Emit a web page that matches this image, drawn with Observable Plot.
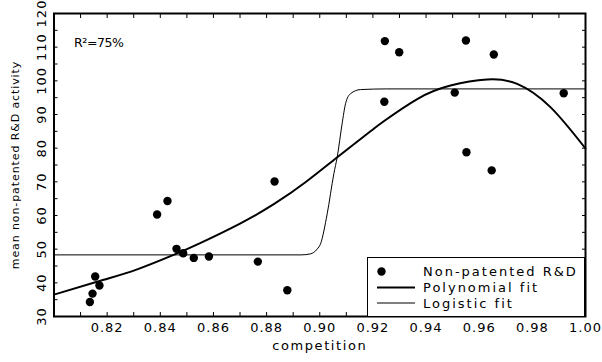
<!DOCTYPE html>
<html><head><meta charset="utf-8">
<script src="https://cdn.jsdelivr.net/npm/d3@7"></script>
<script src="https://cdn.jsdelivr.net/npm/@observablehq/plot@0.6"></script>
<style>
body{margin:0;background:#fff;}
#wrap{position:relative;width:602px;height:362px;font-family:"DejaVu Sans",sans-serif;}
#wrap svg text{letter-spacing:1px;}
#wrap svg .xtitle text{letter-spacing:1.6px;}
#wrap svg .ytitle text{letter-spacing:0.9px;}
#wrap svg .annot text{letter-spacing:-0.4px;}
#wrap #legend svg text{letter-spacing:2px;}
#legend{position:absolute;left:367px;top:257px;width:218px;height:60px;box-sizing:border-box;border:1.5px solid #000;background:#fff;}
</style></head>
<body><div id="wrap"></div>
<script>
// scatter data: competition vs mean non-patented R&D activity
const competition = [0.8135,0.8145,0.8155,0.8171,0.8388,0.8427,0.8461,0.8486,0.8526,0.8583,0.8767,0.8830,0.8878,0.9245,0.9299,0.9243,0.9550,0.9655,0.9508,0.9918,0.9552,0.9647];
const rdActivity  = [34.3,36.8,41.9,39.2,60.3,64.3,50.1,48.8,47.4,47.8,46.3,70.1,37.8,111.8,108.5,93.8,112.0,107.8,96.5,96.3,78.8,73.4];
// polynomial fit curve
const polyX = [0.800,0.8187,0.8313,0.845,0.855,0.870,0.883,0.895,0.9066,0.9191,0.9241,0.9367,0.9492,0.963,0.9743,0.9868,1.000];
const polyY = [36.5,40.9,44.0,48.3,51.8,57.6,63.5,70.1,77.3,85.0,88.0,94.6,98.6,100.4,99.1,92.2,79.9];
// logistic fit curve
const logiX = [0.800,0.893,0.8965,0.899,0.9003,0.9028,0.9053,0.9066,0.9084,0.9097,0.9116,0.9153,0.925,1.000];
const logiY = [48.3,48.3,48.6,50.0,51.6,60.5,72.4,77.5,87.2,93.2,96.2,97.4,97.6,97.6];
const xTickLabels = [0.82,0.84,0.86,0.88,0.90,0.92,0.94,0.96,0.98,1.00];
const xTicksAll = [0.81,0.82,0.83,0.84,0.85,0.86,0.87,0.88,0.89,0.90,0.91,0.92,0.93,0.94,0.95,0.96,0.97,0.98,0.99];
const yTickLabels = [30,40,50,60,70,80,90,100,110,120];
const yTicksAll = [35,40,45,50,55,60,65,70,75,80,85,90,95,100,105,110,115];
const xTitle = "competition";
const yTitle = "mean non-patented R&D activity";
const annotation = "R²=75%";
const legendLabels = ["Non-patented R&D","Polynomial fit","Logistic fit"];

const pts = competition.map((c,i)=>({x:c,y:rdActivity[i]}));
const poly = polyX.map((c,i)=>({x:c,y:polyY[i]}));
const logi = logiX.map((c,i)=>({x:c,y:logiY[i]}));

const chart = Plot.plot({
  width:602, height:362,
  marginLeft:53.5, marginRight:17, marginTop:13, marginBottom:46,
  style:{fontFamily:'"DejaVu Sans",sans-serif', fontSize:"13px", background:"#fff", color:"#000"},
  x:{domain:[0.8,1.0], axis:null},
  y:{domain:[30,120], axis:null},
  marks:[
    Plot.axisX(xTicksAll,{anchor:"bottom", tickSize:-4, fill:"none"}),
    Plot.axisX(xTicksAll,{anchor:"top", tickSize:-4, fill:"none"}),
    Plot.axisY(yTicksAll,{anchor:"left", tickSize:-4, fill:"none"}),
    Plot.axisY(yTicksAll,{anchor:"right", tickSize:-4, fill:"none"}),
    Plot.axisX(xTickLabels,{anchor:"bottom", tickSize:0, tickPadding:6, tickFormat:d3.format(".2f"), label:null, fontSize:13}),
    Plot.axisY(yTickLabels,{anchor:"left", tickSize:0, tickPadding:8, tickRotate:-90, textAnchor:"middle", label:null, fontSize:13}),
    Plot.line(logi,{x:"x", y:"y", stroke:"#000", strokeWidth:1, curve:"monotone-x"}),
    Plot.line(poly,{x:"x", y:"y", stroke:"#000", strokeWidth:2, curve:"natural"}),
    Plot.dot(pts,{x:"x", y:"y", r:4.2, fill:"#000"}),
    Plot.text([annotation],{text:d=>d, frameAnchor:"top-left", dx:20, dy:25, textAnchor:"start", fontSize:12.5, className:"annot"}),
    Plot.text([xTitle],{text:d=>d, frameAnchor:"bottom", dy:33, textAnchor:"middle", fontSize:13, className:"xtitle"}),
    Plot.text([yTitle],{text:d=>d, frameAnchor:"left", dx:-39, rotate:-90, textAnchor:"middle", fontSize:11, className:"ytitle"}),
    Plot.frame({stroke:"#000", strokeWidth:2})
  ]
});
const wrap = document.getElementById("wrap");
wrap.appendChild(chart);

// legend box drawn inside the plot area
const leg = document.createElement("div");
leg.id = "legend";
wrap.appendChild(leg);
const lsvg = d3.select(leg).append("svg").attr("width",215).attr("height",57)
  .style("position","absolute").style("left","0").style("top","0")
  .style("font-family",'"DejaVu Sans",sans-serif').style("font-size","13px");
const rowsY = [13.5,29.5,45];
lsvg.append("circle").attr("cx",13.5).attr("cy",rowsY[0]).attr("r",4.2).attr("fill","#000");
lsvg.append("line").attr("x1",9).attr("x2",47).attr("y1",rowsY[1]).attr("y2",rowsY[1]).attr("stroke","#000").attr("stroke-width",2);
lsvg.append("line").attr("x1",9).attr("x2",47).attr("y1",rowsY[2]).attr("y2",rowsY[2]).attr("stroke","#000").attr("stroke-width",1);
legendLabels.forEach((t,i)=>{
  lsvg.append("text").attr("x",55).attr("y",rowsY[i]).attr("dy","0.35em").text(t);
});
</script>
</body></html>
